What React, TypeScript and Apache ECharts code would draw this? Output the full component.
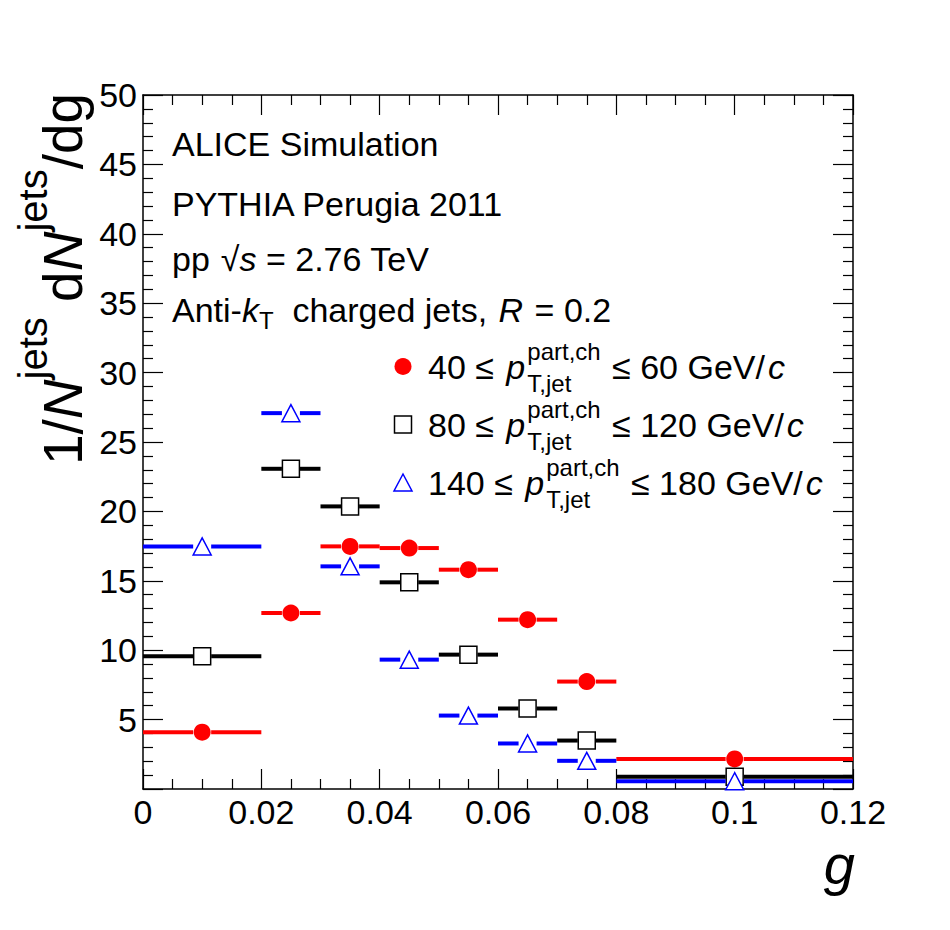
import { useEffect, useRef } from 'react';
import * as echarts from 'echarts';

const FONT = '"Liberation Sans", Arial, Helvetica, sans-serif';

// bins of g
const binLow = [0, 0.02, 0.03, 0.04, 0.05, 0.06, 0.07, 0.08];
const binHigh = [0.02, 0.03, 0.04, 0.05, 0.06, 0.07, 0.08, 0.12];
const binCenter = [0.01, 0.025, 0.035, 0.045, 0.055, 0.065, 0.075, 0.1];

// 1/N dN/dg per jet pT bin
const pt40to60 = [4.09, 12.68, 17.48, 17.36, 15.8, 12.2, 7.74, 2.17];
const pt80to120 = [9.56, 23.07, 20.36, 14.89, 9.68, 5.8, 3.49, 0.88];
const pt140to180 = [17.48, 27.08, 16.04, 9.32, 5.29, 3.28, 2.03, 0.56];

const legendLow = ['40', '80', '140'];
const legendHigh = ['60', '120', '180'];

type Marker = 'circle' | 'square' | 'triangle';

const markerShape = (m: Marker, cx: number, cy: number, color: string): any => {
  if (m === 'circle') {
    return { type: 'circle', shape: { cx, cy, r: 8.5 }, style: { fill: color } };
  }
  if (m === 'square') {
    return {
      type: 'rect',
      shape: { x: cx - 8.5, y: cy - 8.5, width: 17, height: 17 },
      style: { fill: '#fff', stroke: color, lineWidth: 1.5 },
    };
  }
  return {
    type: 'polygon',
    shape: { points: [[cx, cy - 8.5], [cx - 9, cy + 8.5], [cx + 9, cy + 8.5]] },
    style: { fill: '#fff', stroke: color, lineWidth: 1.5 },
  };
};

const makeSeries = (name: string, values: number[], color: string, marker: Marker) => ({
  type: 'custom',
  name,
  clip: false,
  data: values.map((v, i) => [binLow[i], binHigh[i], binCenter[i], v]),
  encode: { x: [0, 1, 2], y: 3 },
  renderItem: (_params: any, api: any) => {
    const y = api.value(3);
    const a = api.coord([api.value(0), y]);
    const b = api.coord([api.value(1), y]);
    const c = api.coord([api.value(2), y]);
    const gap = 9;
    const ls = { stroke: color, lineWidth: 4 };
    return {
      type: 'group',
      children: [
        { type: 'line', shape: { x1: a[0], y1: c[1], x2: c[0] - gap, y2: c[1] }, style: ls },
        { type: 'line', shape: { x1: c[0] + gap, y1: c[1], x2: b[0], y2: c[1] }, style: ls },
        markerShape(marker, c[0], c[1], color),
      ],
    };
  },
});

// text pieces laid out one after another, widths measured with canvas
type Piece =
  | { t: string; s: number; it?: boolean; dy?: number; gap?: number }
  | { sup: string; sub: string; s: number; supDy: number; subDy: number; gap?: number };

const measureCtx = document.createElement('canvas').getContext('2d')!;
const textWidth = (t: string, s: number, it?: boolean) => {
  measureCtx.font = `${it ? 'italic ' : ''}${s}px ${FONT}`;
  return measureCtx.measureText(t).width;
};

const textEl = (t: string, x: number, base: number, s: number, it?: boolean) => ({
  type: 'text',
  x,
  y: base - 0.3465 * s,
  style: {
    text: t,
    fontSize: s,
    fontFamily: FONT,
    fontStyle: it ? 'italic' : 'normal',
    fill: '#000',
    align: 'left',
    verticalAlign: 'middle',
  },
});

const run = (x0: number, base: number, pieces: Piece[]) => {
  const out: any[] = [];
  let x = x0;
  pieces.forEach((p) => {
    x += p.gap || 0;
    if ('sup' in p) {
      out.push(textEl(p.sup, x, base + p.supDy, p.s));
      out.push(textEl(p.sub, x, base + p.subDy, p.s));
      x += Math.max(textWidth(p.sup, p.s), textWidth(p.sub, p.s));
    } else {
      out.push(textEl(p.t, x, base + (p.dy || 0), p.s, p.it));
      x += textWidth(p.t, p.s, p.it);
    }
  });
  return out;
};

const buildGraphics = () => {
  const g: any[] = [];
  const F = 34;
  g.push(...run(172, 156, [{ t: 'ALICE Simulation', s: F }]));
  g.push(...run(172, 216, [{ t: 'PYTHIA Perugia 2011', s: F }]));
  g.push(
    ...run(172, 271, [
      { t: 'pp', s: F },
      { t: '\u221A', s: F, gap: 11 },
      { t: 's', s: F, it: true },
      { t: ' = 2.76 TeV', s: F },
    ])
  );
  g.push(
    ...run(172, 322, [
      { t: 'Anti-', s: F },
      { t: 'k', s: F, it: true },
      { t: 'T', s: 24, dy: 7 },
      { t: '  charged jets, ', s: F },
      { t: 'R', s: F, it: true, gap: 2 },
      { t: ' = 0.2', s: F, gap: 2 },
    ])
  );

  // legend
  const rowBase = [379, 437, 495];
  const markers: Marker[] = ['circle', 'square', 'triangle'];
  const colors = ['#ff0000', '#000000', '#0000ff'];
  rowBase.forEach((base, i) => {
    g.push(markerShape(markers[i], 403, base - 12.5, colors[i]));
    g.push(
      ...run(428, base, [
        { t: `${legendLow[i]} \u2264 `, s: F },
        { t: 'p', s: F, it: true, gap: 3 },
        { sup: 'part,ch', sub: 'T,jet', s: 24, supDy: -19, subDy: 13, gap: 2 },
        { t: ` \u2264 ${legendHigh[i]} GeV/`, s: F, gap: 2 },
        { t: 'c', s: F, it: true, gap: 3 },
      ])
    );
  });

  // y axis title, rotated
  g.push({
    type: 'group',
    x: 82,
    y: 465,
    rotation: Math.PI / 2,
    children: run(0, 0, [
      { t: '1/', s: 55 },
      { t: 'N', s: 55, it: true },
      { t: 'jets', s: 40, dy: -35 },
      { t: ' d', s: 55 },
      { t: 'N', s: 55, it: true },
      { t: 'jets', s: 40, dy: -35 },
      { t: '/dg', s: 55 },
    ]),
  });

  // x axis title
  g.push({
    type: 'text',
    x: 855,
    y: 884 - 0.3465 * 56,
    style: {
      text: 'g',
      fontSize: 56,
      fontFamily: FONT,
      fontStyle: 'italic',
      fill: '#000',
      align: 'right',
      verticalAlign: 'middle',
    },
  });
  return g;
};

const lineStyle = { color: '#000', width: 1.5 };
const tickStyle = { color: '#000', width: 1.2 };

const xAxisBase = (position: 'bottom' | 'top', labels: boolean) => ({
  type: 'value',
  position,
  min: 0,
  max: 0.12,
  interval: 0.02,
  axisLine: { show: true, onZero: false, lineStyle },
  axisTick: { show: true, inside: true, length: 20, lineStyle: tickStyle },
  minorTick: { show: true, splitNumber: 4, length: 10, lineStyle: tickStyle },
  splitLine: { show: false },
  axisLabel: {
    show: labels,
    color: '#000',
    fontSize: 34,
    fontFamily: FONT,
    margin: 6,
    formatter: (v: number) => String(+v.toFixed(3)),
  },
});

const yAxisBase = (position: 'left' | 'right', labels: boolean) => ({
  type: 'value',
  position,
  min: 0,
  max: 50,
  interval: 5,
  axisLine: { show: true, onZero: false, lineStyle },
  axisTick: { show: true, inside: true, length: 20, lineStyle: tickStyle },
  minorTick: { show: true, splitNumber: 5, length: 10, lineStyle: tickStyle },
  splitLine: { show: false },
  axisLabel: {
    show: labels,
    color: '#000',
    fontSize: 34,
    fontFamily: FONT,
    margin: 6,
    formatter: (v: number) => (v === 0 ? '' : String(v)),
  },
});

const App = () => {
  const chartRef = useRef<HTMLDivElement>(null);

  useEffect(() => {
    if (!chartRef.current) return;
    const chart = echarts.init(chartRef.current, undefined, { renderer: 'svg' });
    chart.setOption({
      animation: false,
      backgroundColor: '#fff',
      grid: { left: 143, right: 97, top: 95, bottom: 141 },
      xAxis: [xAxisBase('bottom', true), xAxisBase('top', false)],
      yAxis: [yAxisBase('left', true), yAxisBase('right', false)],
      graphic: buildGraphics(),
      series: [
        makeSeries('40-60', pt40to60, '#ff0000', 'circle'),
        makeSeries('80-120', pt80to120, '#000000', 'square'),
        makeSeries('140-180', pt140to180, '#0000ff', 'triangle'),
      ],
    });
    return () => {
      chart.dispose();
    };
  }, []);

  return (
    <div
      ref={chartRef}
      style={{ position: 'absolute', left: 0, top: 0, width: 950, height: 930 }}
    />
  );
};

export default App;
